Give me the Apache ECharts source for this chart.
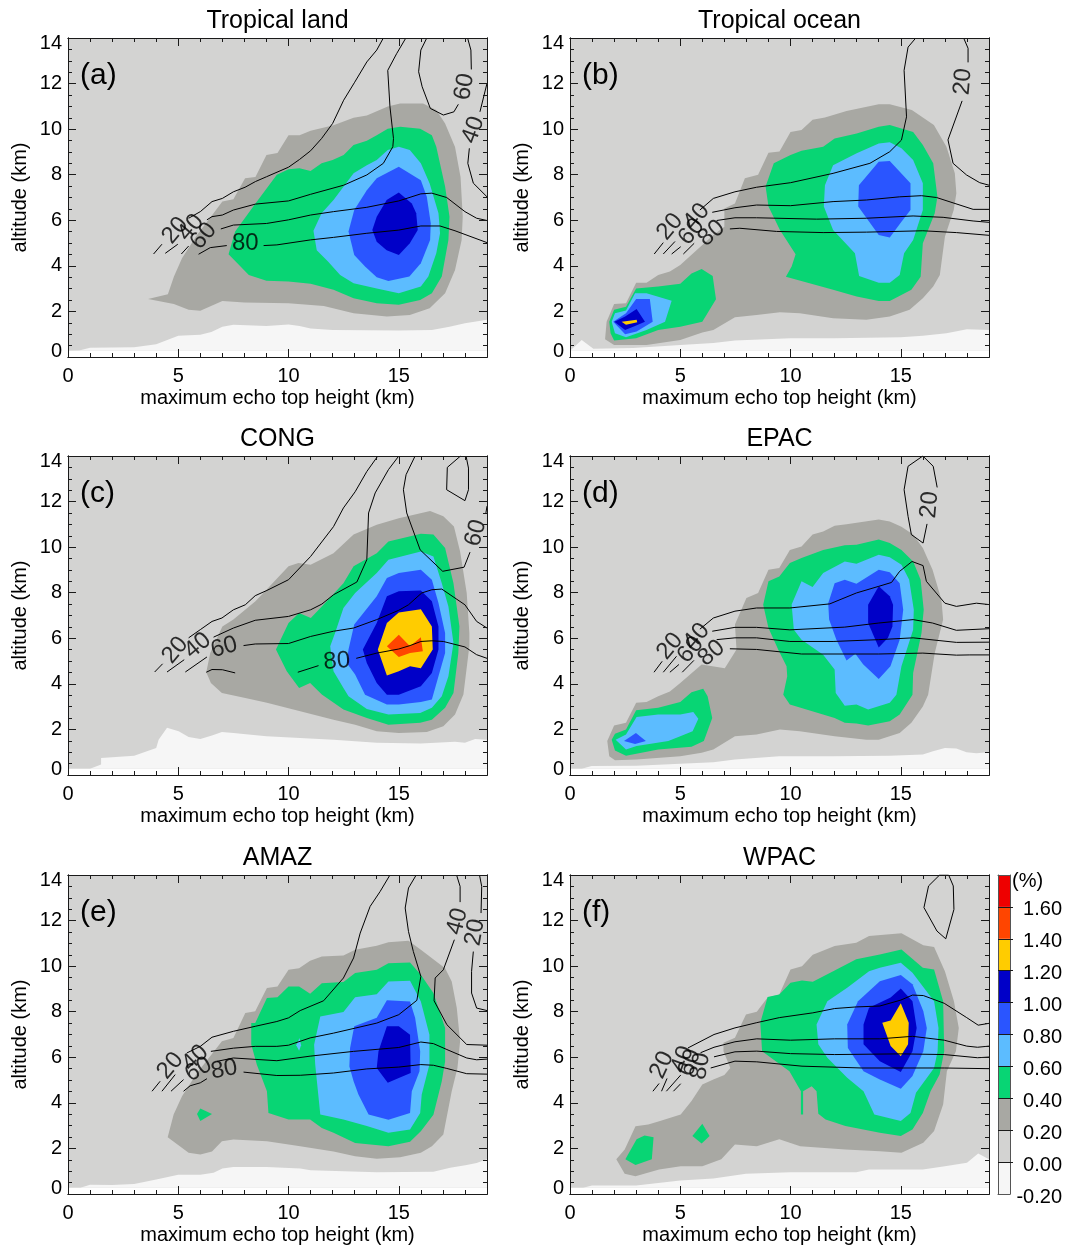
<!DOCTYPE html>
<html><head><meta charset="utf-8"><title>Echo top height vs altitude</title>
<style>html,body{margin:0;padding:0;background:#fff}#chart{width:1067px;height:1246px}</style>
<script src="https://cdn.jsdelivr.net/npm/echarts@6/dist/echarts.min.js"></script></head>
<body><div id="chart"></div>
<script>
const panelTitles=["Tropical land","Tropical ocean","CONG","EPAC","AMAZ","WPAC"];
const panelTags=["(a)","(b)","(c)","(d)","(e)","(f)"];
const xTicks=[0,5,10,15];
const xMinorTicks=[1,2,3,4,6,7,8,9,11,12,13,14,16,17,18,19];
const yTicks=[0,2,4,6,8,10,12,14];
const yMinorTicks=[0.5,1,1.5,2.5,3,3.5,4.5,5,5.5,6.5,7,7.5,8.5,9,9.5,10.5,11,11.5,12.5,13,13.5];
const colorLevels=[-0.2,0,0.2,0.4,0.6,0.8,1.0,1.2,1.4,1.6,1.8];
const levelColors=["#f6f6f6","#d3d3d2","#a8a8a3","#08d574","#5cbcff","#2a55ff","#0000c8","#ffcc00","#ff4500","#ee0000"];
const dataDomain=[[0,.27],[19,.27],[19,14],[0,14]];

// (a) Tropical land: filled contours [x km, altitude km]
const a_below0=[[0,.27],[.5,.28],[1,.41],[3,.43],[4,.56],[5,.93],[6,.98],[6.5,1.1],[7,1.33],[7.5,1.41],[9,1.36],[10,1.43],[10.5,1.36],[11,1.25],[12,1.19],[15,1.16],[16.5,1.19],[17.3,1.33],[18,1.48],[19,1.63],[19,.27]];
const a_g02=[[3.63,2.54],[4.53,2.75],[4.8,3.52],[5.17,4.33],[5.85,5.35],[6.6,6.31],[7,6.82],[7.5,6.92],[8.03,7.84],[8.5,7.9],[9,8.86],[9.5,8.95],[10,9.73],[10.5,9.73],[11,9.93],[12.04,10.17],[12.95,10.5],[13.55,10.6],[14.5,10.99],[15.06,11.13],[16.1,11.13],[16.7,10.84],[17.1,10.25],[17.55,9.22],[17.8,7.9],[17.9,6.16],[17.85,5.14],[17.55,3.82],[17.1,2.8],[16.4,2.14],[15.5,1.84],[14.46,1.78],[12.95,1.92],[11.6,2.24],[10,2.36],[8,2.39],[7,2.46],[6,2.03],[5.47,2.07],[4.8,2.33]];
const a_g04=[[7.28,4.51],[7.58,5.51],[8.5,6.74],[9.47,8],[10,8.24],[10.5,8.28],[11,8.16],[11.5,8.5],[12,8.65],[12.5,8.87],[12.95,9.3],[13.55,9.49],[14,9.73],[14.5,10.02],[15.06,10.1],[15.97,10.02],[16.5,9.73],[16.7,9.23],[17.1,7.48],[17.3,6.16],[17.25,5.14],[16.95,3.53],[16.5,2.8],[15.97,2.5],[15,2.29],[14,2.36],[12.95,2.58],[12.04,2.95],[11,3.21],[10,3.31],[9,3.35],[8.2,3.6]];
const a_g06=[[11.13,5.54],[11.5,6.31],[12.04,6.89],[12.5,7.48],[12.95,8.06],[13.55,8.42],[14,8.65],[14.5,9.08],[15,9.23],[15.5,9.08],[16,8.5],[16.4,7.61],[16.8,6.31],[16.87,5.43],[16.7,4.55],[16.34,3.53],[16,3.09],[15,2.8],[14,3.01],[12.95,3.24],[12.34,3.6],[11.8,4.18],[11.28,4.69]];
const a_g08=[[12.72,5.51],[12.98,6.45],[13.55,7.32],[14,7.84],[15,8.35],[16,7.76],[16.27,7.03],[16.45,5.87],[16.42,5.14],[16,4.11],[15.48,3.53],[14.53,3.34],[14,3.5],[13.47,3.97],[12.98,4.48]];
const a_g10=[[13.8,5.57],[14,6.16],[14.45,6.89],[15,7.22],[15.59,6.74],[15.79,6.31],[15.86,5.57],[15.5,4.99],[15,4.48],[14.45,4.69],[14,5.06]];
const a_lines=[
[[3.88,4.52],[4.26,4.95]],
[[5.47,6.09],[6,6.38],[6.53,6.82],[7,6.96],[7.5,7.25],[8.03,7.45],[8.5,7.7],[9,7.91],[10,8.33],[10.5,8.67],[11,9.05],[11.5,9.59],[12,10.25],[12.5,11.27],[13,12.06],[13.55,12.95],[14,13.47],[14.3,14]],
[[4.41,4.55],[4.98,4.95]],
[[6.3,6.02],[6.53,6.16],[7,6.23],[7.5,6.45],[8.5,6.71],[10,6.85],[11,7.14],[12.5,7.54],[13.55,7.99],[14.3,8.5],[14.73,9.23],[14.76,9.59],[14.6,10.98],[14.5,12.58],[14.9,13.31],[15.32,14]],
[[5.14,4.52],[5.47,4.87]],
[[6.93,5.62],[7.5,5.79],[9,5.86],[10,6.02],[11,6.23],[12.04,6.38],[13.55,6.57],[15,6.85],[16,7.16],[16.5,7.19],[17.17,7],[18,6.38],[18.53,6.09],[19,5.99]],
[[5.92,4.51],[6.45,4.8],[7.2,4.89]],
[[8.87,4.89],[9.47,4.92],[11,5.14],[12.04,5.25],[13.55,5.43],[15,5.57],[16,5.75],[16.87,5.75],[17.55,5.54],[19,5.02]],
[[16.27,14],[16,13.47],[15.9,12.52],[16.06,11.86],[16.43,10.91],[17.02,10.62],[17.5,10.76],[17.7,11.09]],
[[18.29,12.62],[18.27,13.47],[18.12,14]],
[[19,12.01],[18.68,10.76]],
[[18.2,9.16],[18.13,8.5],[18.38,7.63],[19,7.03]]];
const a_labels=[["20",4.86,5.55,50],["40",5.57,5.68,50],["60",6.15,5.31,50],["80",8.04,4.99,0],["60",17.98,11.86,80],["40",18.38,9.96,70]];

// (b) Tropical ocean
const b_below0=[[0,.27],[.53,.75],[1.06,.36],[2.87,.39],[5,.53],[6.5,.61],[7.48,.72],[10,.82],[12,.82],[15,.87],[16,.93],[17.07,1.04],[18,1.22],[19,1.19],[19,.27]];
const b_g02=[[1.59,.78],[1.66,1.55],[2,2.33],[2.54,2.36],[3,3.26],[3.47,3.26],[4,3.6],[4.53,3.75],[5,4.04],[5.5,4.48],[6,4.91],[6.5,5.35],[7,5.72],[7,6.52],[7.48,6.74],[7.93,7.84],[8.53,8],[9,8.96],[9.5,9.02],[10,9.88],[10.5,9.96],[11,10.41],[11.56,10.51],[12.54,10.8],[14,11.09],[14.5,11.09],[15.5,10.84],[16.5,10.18],[17.07,9.23],[17.45,8.06],[17.52,7.19],[17.4,6.45],[17,5.28],[16.77,3.6],[16.47,3.09],[16,2.58],[15.4,2.07],[14.5,1.78],[13.44,1.63],[11.93,1.7],[10.42,1.92],[9.52,1.96],[8.46,1.84],[7.48,1.75],[6.5,1.19],[6,1.07],[5,.75],[3.47,.53],[2,.53]];
const b_g04_1=[[1.78,1.55],[2,2.07],[2.54,2.21],[3,3.01],[4,3.09],[5,3.21],[5.51,3.67],[5.97,3.86],[6.47,3.55],[6.62,2.53],[6,1.55],[5,1.33],[4,1.19],[3,.82],[2,.72],[1.84,1.04]];
const b_g04_2=[[9.79,3.52],[10.05,3.97],[10.23,4.51],[9.52,5.57],[9,6.6],[8.87,7.48],[9.24,8.5],[10,8.87],[10.5,9.05],[11.48,9.23],[12,9.59],[13,9.81],[14,10.1],[14.5,10.18],[15.56,9.88],[16,9.3],[16.47,8.5],[16.66,7.03],[16.54,6.31],[16,4.99],[15.9,3.52],[15.48,2.95],[14.5,2.46],[14,2.46],[13,2.66],[11.93,2.95]];
const b_g06_1=[[1.89,1.55],[2.04,1.92],[2.54,2.04],[2.95,2.8],[3.47,2.8],[4.61,2.47],[4.31,1.55],[3.47,1.19],[2.54,.87],[2.04,1.04]];
const b_g06_2=[[12.92,4.55],[11.93,5.57],[11.51,6.6],[11.56,7.54],[11.93,8.42],[13,8.94],[14,9.37],[14.5,9.42],[15.03,9.16],[15.56,8.65],[16,7.62],[16,6.45],[15.56,5.14],[15.15,4.55],[14.95,3.6],[14.5,3.26],[14,3.26],[13.11,3.55]];
const b_g08_1=[[1.96,1.55],[2.54,1.92],[3,2.55],[3.62,2.55],[3.75,1.55],[3.02,1.12],[2.5,1]];
const b_g08_2=[[13.07,6.6],[13.1,7.54],[14,8.57],[14.5,8.6],[15.44,7.62],[15.44,6.45],[15.03,5.94],[14.5,5.24],[14,5.35]];
const b_g10=[[2.01,1.55],[2.5,1.78],[3.02,2.11],[3.4,1.55],[2.95,1.36],[2.5,1.19]];
const b_g12=[[2.34,1.55],[3.02,1.63],[3.05,1.52],[2.54,1.41]];
const b_lines=[
[[3.82,4.52],[4.23,5.02]],
[[5.89,6.45],[6.5,6.96],[7.48,7.25],[8.46,7.45],[10,7.65],[11.93,8.06],[13.6,8.5],[14.5,9.01],[15.03,9.52],[15.26,10.54],[15.15,12.58],[15.33,13.6],[15.68,14]],
[[4.23,4.52],[4.76,5.07]],
[[6.45,6.35],[7.48,6.55],[8.46,6.67],[10,6.64],[11.93,6.82],[13.44,6.89],[14.95,7.03],[15.94,7.08],[16.62,7],[18.28,6.48],[19,6.48]],
[[4.61,4.52],[5.02,4.84]],
[[6.65,5.99],[7.48,6.11],[8.46,6.11],[11.18,6.05],[13.44,6.09],[15.56,6.19],[16.92,6.13],[18.28,5.97],[19,5.91]],
[[5.14,4.52],[5.63,4.99]],
[[7.25,5.62],[7.7,5.65],[9.37,5.51],[11.48,5.46],[13.44,5.48],[16,5.54],[17.52,5.46],[19,5.34]],
[[17.85,14],[18.05,13.55],[18.05,12.93]],
[[17.78,11.24],[17.14,9.53],[17.37,8.5],[17.98,7.99],[18.58,7.65],[19,7.54]]];
const b_labels=[["20",4.53,5.72,50],["40",5.74,6.16,50],["60",5.51,5.5,50],["80",6.42,5.43,40],["20",17.82,12.08,85]];

// (c) CONG
const c_below0=[[0,.27],[1,.27],[1.5,.46],[1.5,.75],[3,.85],[3.58,1.04],[4,1.19],[4.11,1.55],[4.49,2.07],[5.02,1.92],[5.47,1.67],[6,1.58],[6.53,1.73],[6.98,1.89],[7.5,1.84],[9,1.7],[12.04,1.55],[14,1.41],[16,1.38],[17.55,1.46],[18,1.41],[18.46,1.58],[19,1.55],[19,.27]];
const c_g02=[[6.27,4.51],[6.45,5.35],[7,6.52],[7.5,6.82],[8.5,7.62],[9,8.13],[10,9.16],[10.45,9.3],[11,9.23],[12.04,9.73],[12.95,10.55],[14,10.98],[15,11.27],[16.42,11.59],[17.02,11.36],[17.5,10.91],[17.78,9.81],[18.08,7.99],[18.2,6.23],[18.2,5.65],[17.93,3.53],[17.55,2.66],[17.02,2.14],[16.27,1.89],[15,1.84],[14,1.92],[13.02,2.21],[12.04,2.43],[10.53,2.8],[9.02,3.17],[8.04,3.38],[6.98,3.6],[6.48,4.04]];
const c_g04=[[9.43,5.51],[10,6.67],[10.48,7.11],[11.01,6.89],[11.51,7.4],[12.49,8.42],[12.95,9.16],[14,9.73],[14.53,10.25],[16,10.59],[16.57,10.55],[17.1,9.96],[17.48,8.42],[17.75,6.52],[17.7,5.35],[17.48,3.6],[17.1,2.95],[16.5,2.43],[15.97,2.29],[14.53,2.21],[13.55,2.5],[12.49,2.87],[11.51,3.53],[10.98,4.04],[10.48,3.82],[9.92,4.55]];
const c_g06=[[11.89,5.65],[12.11,6.23],[12.49,7.33],[13.02,7.99],[14,8.87],[14.53,9.45],[16,9.81],[16.57,9.59],[16.95,8.42],[17.25,7.4],[17.48,5.79],[17.25,4.33],[16.95,3.46],[16.5,2.95],[15.97,2.72],[14.53,2.66],[13.55,2.9],[12.72,3.46],[12.49,3.82],[12.04,4.55]];
const c_g08=[[12.72,5.51],[12.98,6.6],[14,7.84],[14.46,8.65],[15,8.87],[16,9.01],[16.5,8.57],[16.8,7.55],[17.1,6.23],[17.1,5.35],[16.8,4.33],[16.5,3.31],[16,3.2],[15,3.09],[14.46,3.09],[13.47,3.52],[13.02,4.41],[12.64,4.91]];
const c_g10=[[13.37,5.51],[14,6.67],[14.46,7.84],[15,8.06],[16,8.1],[16.5,7.62],[16.8,6.52],[16.8,5.51],[16.5,4.48],[16,3.89],[15,3.52],[14.46,3.52],[14,4.04],[13.55,4.91]];
const c_g12=[[14.05,5.51],[14.46,6.67],[15,7.13],[16,7.27],[16.5,6.52],[16.54,5.51],[16,4.69],[15.51,4.77],[15,4.55],[14.46,4.37]];
const c_g14=[[14.46,5.65],[15,6.16],[15.51,5.65],[16,6.05],[16.09,5.43],[15.51,5.35],[15,5.18]];
const c_lines=[
[[3.93,4.52],[4.29,4.88]],
[[5.47,6.02],[6,6.38],[6.53,6.74],[6.98,6.89],[7.5,7.25],[8.04,7.47],[8.49,7.87],[9.02,8.1],[10,8.57],[11,9.59],[12.04,10.9],[12.49,11.72],[13.02,12.43],[13.55,13.32],[14.05,14]],
[[4.49,4.52],[5.27,5.06]],
[[6.6,6.05],[7.5,6.45],[8.49,6.79],[10,6.96],[11,7.25],[11.51,7.5],[12.04,7.91],[13.1,8.47],[13.55,9.45],[13.63,11.5],[13.93,12.38],[14.53,13.4],[15,14]],
[[5.32,4.52],[6.3,5.18]],
[[7.96,5.68],[8.49,5.75],[10,5.77],[11,6.08],[12.04,6.31],[12.95,6.45],[14,6.82],[15,7.23],[15.44,7.47],[16.04,7.99],[16.5,8.13],[16.95,8.16],[18,7.47],[18.53,6.74],[19,6.45]],
[[6.27,4.51],[6.53,4.63],[7,4.62],[7.58,4.48]],
[[10.42,4.51],[11.36,4.8]],
[[13.07,5.12],[14,5.35],[15,5.53],[15.51,5.68],[16,5.86],[16.5,5.89],[17.02,5.86],[18,5.62],[18.53,5.28],[19,5.12]],
[[15.74,14],[15.33,13.18],[15.21,12.52],[15.36,11.5],[15.97,9.88],[16.99,8.94],[17.96,9.12],[18.23,9.78]],
[[18.95,11.5],[19,11.8]],
[[17.8,14],[17.2,13.5],[17.17,12.52],[18,12.04],[18.16,12.52],[18.16,13.47],[18.05,14]]];
const c_labels=[["20",4.86,5.47,50],["40",5.88,5.68,40],["60",7.08,5.6,15],["80",12.19,4.99,5],["60",18.49,10.62,75]];

// (d) EPAC
const d_below0=[[0,.27],[.53,.27],[.98,.39],[3.02,.41],[5,.49],[6.5,.56],[7.48,.68],[9.49,.82],[11.93,.82],[14.5,.85],[16,.9],[16.46,1.04],[17,1.19],[17.52,1.16],[17.98,1],[18.43,.95],[19,1],[19,.27]];
const d_g02=[[1.69,1.49],[2,2.17],[2.54,2.29],[3,3.17],[3.47,3.2],[4,3.46],[4.53,3.67],[5,4.04],[5.97,4.85],[7.02,4.69],[7.55,5.51],[7.48,6.6],[8,7.77],[8.53,7.99],[9,9.01],[9.49,9.08],[9.97,9.88],[10.5,10.03],[11,10.55],[11.48,10.69],[12,10.94],[12.54,11.01],[14,11.21],[14.5,11.13],[15.03,10.9],[15.56,10.55],[16,9.96],[16.44,9.01],[16.84,7.7],[16.92,6.82],[16.54,5.35],[16.24,3.52],[16,3.01],[15.48,2.29],[14.95,1.84],[14,1.55],[13.44,1.55],[12,1.7],[10.42,1.92],[9.52,2],[8.46,1.78],[7.48,1.7],[6.5,1.12],[5.97,.98],[5,.82],[3.02,.68],[2.04,.65],[1.78,.82]];
const d_g04_1=[[1.89,1.55],[2.04,1.81],[2.54,2],[3,2.84],[4,2.95],[5,3.2],[5.51,3.63],[6.04,3.78],[6.24,3.46],[6.45,2.5],[6.07,1.49],[5.51,1.24],[4,1.12],[2.54,.85],[2.04,1.07]];
const d_g04_2=[[9.67,3.52],[9.85,4.33],[9.82,4.77],[9.44,5.51],[9,6.45],[8.76,7.47],[9,8.5],[9.49,8.71],[9.97,9.3],[10.5,9.52],[11.48,9.88],[12.46,10.08],[12.99,10.1],[14,10.33],[14.5,10.18],[15.03,9.88],[15.56,9.37],[15.9,8.57],[16.04,7.25],[15.94,6.23],[15.56,4.48],[15.53,3.52],[14.95,2.66],[14.5,2.36],[13.52,2.17],[12.99,2.26],[12.46,2.29],[12,2.5],[9.97,3.09]];
const d_g06_1=[[2.07,1.55],[2.54,1.78],[3.02,2.55],[4,2.66],[5,2.66],[5.59,2.77],[5.82,2.47],[5.56,1.92],[5,1.7],[4.46,1.49],[3.02,1.27],[2.54,1.12]];
const d_g06_2=[[10.05,7.48],[10.5,8.5],[11,8.25],[11.48,8.87],[12.46,9.37],[12.99,9.27],[14,9.67],[14.5,9.56],[15.03,9.23],[15.38,8.57],[15.59,7.25],[15.56,6.37],[15.03,4.77],[14.8,3.52],[14.5,3.17],[13.52,2.87],[12.99,3.09],[12.46,3.04],[12.05,3.6],[12,4.63],[11.48,5.28],[10.5,5.94],[10.15,6.37]];
const d_g08_1=[[2.45,1.49],[2.99,1.84],[3.44,1.49],[2.95,1.36]];
const d_g08_2=[[12.54,5.03],[12.08,5.94],[11.75,6.82],[11.71,7.54],[12,8.42],[12.46,8.57],[12.99,8.39],[14,9.01],[14.5,8.9],[14.95,8.42],[15.11,7.25],[14.95,5.94],[14.53,4.77],[14,4.21],[13.29,4.86],[12.94,5.32]];
const d_g10=[[13.52,6.67],[13.52,7.47],[14,8.28],[14.5,7.84],[14.65,7.47],[14.62,6.52],[14.42,6.02],[14,5.6]];
const d_lines=[
[[3.81,4.51],[4.18,4.99]],
[[5.89,6.4],[6.5,6.89],[7.48,7.19],[8.46,7.33],[9.97,7.33],[11.78,7.51],[12.99,7.99],[14,8.28],[14.58,8.45],[14.95,8.94],[15.51,9.37],[16.01,9.19],[16.16,8.5],[17,7.54],[17.52,7.4],[18.43,7.54],[19,7.48]],
[[4.23,4.51],[4.83,5.21]],
[[6.45,6.31],[7.48,6.48],[8.46,6.48],[9.97,6.37],[12.46,6.49],[14,6.67],[15.56,6.82],[16.44,6.67],[17.52,6.35],[19,6.42]],
[[4.53,4.51],[4.94,4.85]],
[[6.65,5.94],[7.48,6.02],[8.46,6.02],[9.97,5.86],[11.93,5.86],[14,5.94],[15.56,6.02],[17.52,5.82],[19,5.83]],
[[5.09,4.51],[5.62,5.03]],
[[7.25,5.54],[8.46,5.51],[10.5,5.31],[14,5.31],[16,5.35],[17.52,5.26],[18.13,5.27],[19,5.27]],
[[16.19,11.02],[16.01,10.18],[15.48,10.55],[15.33,11.35],[15.15,12.52],[15.33,13.55],[16,14],[16.47,13.55],[16.65,12.62]]];
const d_labels=[["20",4.53,5.65,50],["40",5.74,6.08,50],["60",5.47,5.5,50],["80",6.42,5.35,40],["20",16.31,11.86,85]];

// (e) AMAZ
const e_below0=[[0,.27],[.56,.27],[1,.41],[2,.39],[3,.44],[4,.64],[5,.85],[6,.85],[6.6,.93],[7,1.12],[7.5,1.18],[9,1.19],[10.53,1.12],[11,1.04],[14,.96],[16.57,.98],[17.33,1.15],[18.08,1.27],[18.53,1.36],[19,1.52],[19,.27]];
const e_g02=[[4.52,2.49],[4.79,3.49],[5.17,4.29],[5.85,5.31],[6.98,6.7],[7.5,6.85],[8.04,7.94],[8.49,8.02],[9.02,9.04],[9.5,9.11],[10,9.84],[10.48,9.91],[10.98,10.24],[11.51,10.42],[12.49,10.47],[13.02,10.72],[14,10.89],[14.53,11.05],[15.44,11.11],[16,10.72],[17.1,9.91],[17.4,9.33],[17.63,8.16],[17.78,6.7],[17.66,5.53],[17.4,4.51],[17.02,2.61],[16.5,2.1],[16,1.81],[15.06,1.61],[14,1.55],[13.02,1.66],[12.04,1.87],[10.53,2.1],[9.02,2.32],[7.5,2.39],[6.98,2.32],[6.53,1.87],[6,1.73],[5.47,1.81]];
const e_g04_1=[[8.31,7.5],[8.49,7.5],[9.02,8.6],[9.5,8.63],[10,9.11],[10.48,9.11],[10.98,8.79],[11.51,9.25],[12.49,9.3],[13.02,9.7],[14,9.84],[14.53,10.13],[15.51,10.16],[16,9.62],[16.57,8.82],[17.1,7.28],[17.1,5.82],[16.95,4.95],[16.57,3.48],[16,2.75],[15.51,2.29],[14.53,2.1],[13.02,2.24],[12.04,2.69],[11.51,2.9],[10.98,3.27],[10,3.27],[9.09,3.55],[9.02,4.51],[8.56,5.68],[8.31,6.56]];
const e_g04_2=[[5.85,3.51],[6,3.75],[6.53,3.51],[6,3.2]];
const e_g06_1=[[11.44,3.49],[11.21,5.68],[11.16,6.55],[11.44,7.79],[12.49,7.99],[13.02,8.63],[14,8.77],[14.53,9.33],[15.51,9.36],[16,8.45],[16.39,6.99],[16.39,5.68],[16.04,4.37],[15.97,3.55],[15.51,2.83],[14.53,2.69],[13.55,2.98],[12.49,3.27]];
const e_g06_2=[[10.35,6.53],[10.5,6.85],[10.57,6.53],[10.48,6.29]];
const e_g08=[[12.76,5.6],[12.79,6.4],[12.98,7.36],[14,7.73],[14.46,8.5],[15.51,8.45],[15.74,7.73],[15.97,6.26],[15.94,5.39],[15.59,4.51],[15.51,3.55],[14.53,3.26],[13.63,3.49],[13.17,4.37],[12.95,4.95]];
const e_g10=[[14,5.53],[14.08,6.26],[14.46,7.36],[15,7.36],[15.51,6.99],[15.54,5.31],[15,5.09],[14.5,4.88]];
const e_lines=[
[[3.81,4.51],[4.18,4.95]],
[[5.39,6.19],[6,6.48],[6.53,6.88],[7.5,7.14],[8.49,7.36],[9.47,7.57],[10,7.73],[10.53,8.05],[11.59,8.48],[12.49,9.48],[12.95,10.36],[13.25,11.45],[13.7,12.62],[14.15,13.27],[14.6,14]],
[[4.26,4.51],[4.86,5.24]],
[[6.48,6.26],[7.5,6.4],[8.49,6.48],[9.47,6.48],[10,6.53],[10.98,6.85],[12.04,7.06],[13.02,7.28],[14,7.5],[15,7.87],[15.82,8.5],[16,9.55],[15.66,10.64],[15.44,11.52],[15.29,12.55],[15.44,13.43],[15.79,14]],
[[4.67,4.51],[5.24,5.02]],
[[6.75,5.82],[7.5,5.97],[9.47,5.85],[10.98,6.05],[12.95,6.26],[15,6.43],[16,6.67],[16.57,6.6],[17.18,6.34],[18.08,5.97],[18.53,5.89],[19,5.92]],
[[5.24,4.51],[5.54,4.75],[6,4.88],[6.3,5.06]],
[[7.96,5.35],[9.47,5.2],[10.53,5.21],[12.04,5.31],[13.55,5.49],[15,5.57],[16,5.68],[16.57,5.65],[17.18,5.51],[18.08,5.28],[19,5.26]],
[[17.62,14],[17.78,13.5],[17.78,12.81]],
[[17.52,11.16],[17.02,9.84],[16.65,9.48],[16.6,8.48],[17.18,7.43],[18.08,6.56],[19,6.53]],
[[18.66,14],[18.76,13.5],[18.73,12.33]],
[[18.38,10.64],[18.3,9.77],[18.3,8.82],[18.53,8.16],[19,8.05]]];
const e_labels=[["20",4.64,5.63,50],["40",5.77,5.97,45],["60",5.92,5.46,30],["80",7.08,5.46,10],["40",17.66,11.96,75],["20",18.46,11.48,80]];

// (f) WPAC
const f_below0=[[0,.27],[.6,.27],[1,.37],[3,.37],[5,.59],[6.5,.68],[7.98,.89],[10,.96],[12.98,.96],[13.56,1.07],[16,1.07],[17,1.22],[18,1.37],[18.51,1.78],[19,1.52],[19,.27]];
const f_g02=[[2.1,1.52],[2.48,1.95],[2.97,2.97],[3.55,3.05],[4.12,3.22],[5.02,3.49],[5.51,4.08],[6,4.81],[6.5,5.02],[7,5.22],[7.27,5.53],[6.96,6.27],[6.96,6.64],[7.48,6.86],[7.98,7.88],[8.47,8],[8.96,8.62],[9.49,8.76],[10,9.85],[10.52,10],[11.01,10.5],[12,10.88],[12.98,11.03],[13.56,11.32],[15.03,11.44],[16.02,10.92],[16.51,10.84],[17,9.78],[17.41,8.46],[17.63,7.29],[17.5,6.27],[17.09,5.39],[16.92,3.93],[16.51,2.76],[16.02,2.25],[15.03,1.81],[14.05,1.88],[12.49,1.95],[10.44,2.1],[9.49,2.4],[8.47,2.1],[7.48,2.17],[6.86,1.52],[6,1.22],[5.02,1.22],[4.04,1.07],[2.97,.78],[2.48,.89]];
const f_g04_1=[[2.51,1.52],[3.02,2.4],[3.38,2.57],[3.79,2.49],[3.71,1.52],[2.97,1.27]];
const f_g04_2=[[5.55,2.54],[6,3.08],[6.33,2.54],[5.97,2.22]];
const f_g04_3=[[8.63,7.52],[8.96,8.65],[9.49,8.76],[10,9.27],[10.52,9.37],[11.01,9.31],[12,9.81],[12.98,10.3],[14.05,10.51],[15.03,10.73],[16,9.93],[16.51,9.85],[16.92,8.46],[16.97,6.27],[16.76,5.25],[16.35,4.51],[16,3.56],[15.53,2.83],[15,2.54],[14.05,2.69],[12.49,2.98],[11.59,3.27],[11.26,3.52],[11.18,4.51],[10.96,4.73],[10.57,4.51],[10.57,3.49],[10.47,3.49],[10.47,4.51],[9.95,5.39],[8.71,6.27]];
const f_g06=[[11.18,7.44],[11.67,8.46],[12.57,9.05],[13.56,9.78],[14.05,9.93],[15,10.15],[15.53,9.71],[16.51,8.46],[16.71,7.29],[16.67,6.27],[16.51,5.53],[15.69,4.44],[15.44,3.56],[15,3.2],[13.8,3.49],[13.31,4.51],[12.57,5.1],[11.67,5.98],[11.26,6.57]];
const f_g08=[[12.57,7.44],[13.06,8.46],[14.05,9.34],[15,9.61],[15.53,9.2],[16.02,8.03],[16.18,7.29],[16.02,6.27],[15.53,5.18],[15,4.62],[14.05,5.02],[13.31,5.39],[12.6,6.41]];
const f_g10=[[13.31,7.44],[13.56,8.17],[14.54,8.62],[15,9.02],[15.53,8.46],[15.72,7.29],[15.53,6.27],[15,5.35],[14.05,5.83],[13.31,6.57]];
const f_g12=[[14.16,7.52],[14.54,7.61],[15,8.37],[15.36,7.52],[15.33,6.57],[15,6.05],[14.54,6.49]];
const f_lines=[
[[3.76,4.51],[4.04,4.85]],
[[5.35,6.41],[6.53,7],[7.48,7.29],[8.47,7.52],[9.49,7.74],[11.01,7.95],[12,8.14],[12.98,8.21],[14.05,8.25],[15,8.51],[15.53,8.73],[16.02,8.71],[16.97,8.37],[17.99,7.74],[18.51,7.41],[19,7.49]],
[[4.15,4.51],[4.4,5.07]],
[[5.92,6.2],[6.53,6.44],[7.48,6.68],[8.47,6.81],[10,6.75],[12,6.81],[14.05,6.81],[15.53,6.92],[16.97,6.75],[17.99,6.49],[18.48,6.44],[19,6.49]],
[[4.37,4.51],[5.02,5.22]],
[[6.53,6.02],[7.48,6.24],[8.47,6.27],[10,6.16],[12,6.12],[15,6.15],[16.97,6.12],[18.48,5.98],[19,6.01]],
[[4.69,4.51],[5.02,4.84]],
[[6.38,5.53],[7.48,5.83],[8.47,5.8],[10.52,5.61],[13.23,5.53],[16.97,5.53],[19,5.5]],
[[16.05,12.57],[16.26,13.52],[16.76,14],[17.17,14],[17.38,13.52],[17.41,12.49],[17.04,11.2],[16.64,11.54],[16.05,12.57]]];
const f_labels=[["20",4.17,5.66,65],["40",5.1,5.9,70],["60",5.43,5.76,70],["80",5.92,5.61,80]];

// each band: [index into levelColors, polygon]
const panelBands=[
 [[0,a_below0],[2,a_g02],[3,a_g04],[4,a_g06],[5,a_g08],[6,a_g10]],
 [[0,b_below0],[2,b_g02],[3,b_g04_1],[3,b_g04_2],[4,b_g06_1],[4,b_g06_2],[5,b_g08_1],[5,b_g08_2],[6,b_g10],[7,b_g12]],
 [[0,c_below0],[2,c_g02],[3,c_g04],[4,c_g06],[5,c_g08],[6,c_g10],[7,c_g12],[8,c_g14]],
 [[0,d_below0],[2,d_g02],[3,d_g04_1],[3,d_g04_2],[4,d_g06_1],[4,d_g06_2],[5,d_g08_1],[5,d_g08_2],[6,d_g10]],
 [[0,e_below0],[2,e_g02],[3,e_g04_1],[3,e_g04_2],[4,e_g06_1],[4,e_g06_2],[5,e_g08],[6,e_g10]],
 [[0,f_below0],[2,f_g02],[3,f_g04_1],[3,f_g04_2],[3,f_g04_3],[4,f_g06],[5,f_g08],[6,f_g10],[7,f_g12]]];
const panelLines=[a_lines,b_lines,c_lines,d_lines,e_lines,f_lines];
const panelLabels=[a_labels,b_labels,c_labels,d_labels,e_labels,f_labels];

const FONT='"Liberation Sans",Arial,Helvetica,sans-serif';
const INK='#1a1a1a';
const colLeft=[68,570], rowTop=[38,456,875], plotW=419, plotH=319;
const grids=[],xAxes=[],yAxes=[],series=[],titles=[];

function polygonSeries(xi,yi,pts,fill){
  return {type:'custom',coordinateSystem:'cartesian2d',xAxisIndex:xi,yAxisIndex:yi,silent:true,z:2,animation:false,
    data:pts,encode:{x:0,y:1},
    renderItem:(params,api)=>{
      if(params.dataIndex!==0) return null;
      return {type:'polygon',shape:{points:pts.map(p=>api.coord(p))},style:{fill:fill}};
    }};
}
function tickAxis(kind,gridIndex,position,values,len,extra){
  const isX=kind==='x';
  return Object.assign({type:'value',gridIndex,position,min:0,max:isX?19:14,z:10,
    axisLine:{show:true,onZero:false,lineStyle:{color:INK,width:1}},
    axisTick:{show:true,inside:true,length:len,customValues:values,lineStyle:{color:INK,width:1}},
    axisLabel:{show:false},splitLine:{show:false}},extra||{});
}
panelTitles.forEach((t,i)=>{
  const left=colLeft[i%2], top=rowTop[Math.floor(i/2)];
  grids.push({left,top,width:plotW,height:plotH,show:false});
  const xb=xAxes.length, yb=yAxes.length;
  xAxes.push(tickAxis('x',i,'bottom',xTicks,8,{
    name:'maximum echo top height (km)',nameLocation:'middle',nameGap:31,nameMoveOverlap:false,
    nameTextStyle:{fontFamily:FONT,fontSize:20,color:'#000'},
    axisLabel:{show:true,customValues:xTicks,fontFamily:FONT,fontSize:20,color:'#000',margin:9,hideOverlap:false,showMinLabel:true,showMaxLabel:true}}));
  xAxes.push(tickAxis('x',i,'top',xTicks,8));
  xAxes.push(tickAxis('x',i,'bottom',xMinorTicks,4));
  xAxes.push(tickAxis('x',i,'top',xMinorTicks,4));
  yAxes.push(tickAxis('y',i,'left',yTicks,8,{
    name:'altitude (km)',nameLocation:'middle',nameGap:38,nameMoveOverlap:false,
    nameTextStyle:{fontFamily:FONT,fontSize:20,color:'#000'},
    axisLabel:{show:true,customValues:yTicks,fontFamily:FONT,fontSize:20,color:'#000',margin:6,hideOverlap:false,showMinLabel:true,showMaxLabel:true,
      formatter:v=>v===0?'{lo|0}':v===14?'{hi|14}':String(v),
      rich:{lo:{fontFamily:FONT,fontSize:20,color:'#000',padding:[0,0,12,0]},hi:{fontFamily:FONT,fontSize:20,color:'#000',padding:[10,0,0,0]}}}}));
  yAxes.push(tickAxis('y',i,'right',yTicks,8));
  yAxes.push(tickAxis('y',i,'left',yMinorTicks,4));
  yAxes.push(tickAxis('y',i,'right',yMinorTicks,4));
  series.push(polygonSeries(xb,yb,dataDomain,levelColors[1]));
  panelBands[i].forEach(b=>series.push(polygonSeries(xb,yb,b[1],levelColors[b[0]])));
  panelLines[i].forEach(l=>series.push({type:'line',xAxisIndex:xb,yAxisIndex:yb,data:l,symbol:'none',showSymbol:false,silent:true,animation:false,z:5,smooth:false,
    lineStyle:{color:'#000',width:1},emphasis:{disabled:true}}));
  series.push({type:'scatter',xAxisIndex:xb,yAxisIndex:yb,symbolSize:0,silent:true,animation:false,z:6,
    data:panelLabels[i].map(l=>({value:[l[1],l[2]],label:{show:true,position:'inside',formatter:l[0],rotate:l[3],fontFamily:FONT,fontSize:24,color:'#000'}}))});
  titles.push({text:t,left:left+plotW/2,top:top-29,textAlign:'center',padding:0,textStyle:{fontFamily:FONT,fontSize:25,fontWeight:'normal',color:'#000'}});
  titles.push({text:panelTags[i],left:left+12,top:top+22.5,padding:0,textStyle:{fontFamily:FONT,fontSize:30,fontWeight:'normal',color:'#000'}});
});
// colour bar
const cbGrid=grids.length;
grids.push({left:998,top:875,width:12,height:319,show:false});
const cbX=xAxes.length, cbY=yAxes.length;
const cbOuter={type:'value',gridIndex:cbGrid,min:0,max:1,z:10,axisLine:{show:true,onZero:false,lineStyle:{color:'#555',width:1}},axisTick:{show:false},axisLabel:{show:false},splitLine:{show:false}};
xAxes.push(Object.assign({},cbOuter,{position:'bottom'}));
xAxes.push(Object.assign({},cbOuter,{position:'top'}));
const cbTickValues=colorLevels.slice(1,-1);
yAxes.push({type:'value',gridIndex:cbGrid,position:'right',min:-0.2,max:1.8,z:10,
  axisLine:{show:true,onZero:false,lineStyle:{color:'#555',width:1}},
  axisTick:{show:true,length:3,customValues:cbTickValues,lineStyle:{color:INK,width:1}},
  splitLine:{show:false},
  axisLabel:{show:true,customValues:colorLevels.slice(0,-1),align:'right',margin:52,fontFamily:FONT,fontSize:20,color:'#000',hideOverlap:false,showMinLabel:true,
    formatter:v=>'{v|'+v.toFixed(2)+'}',
    rich:{v:{fontFamily:FONT,fontSize:20,color:'#000',padding:[6,0,0,0]}}}});
yAxes.push({type:'value',gridIndex:cbGrid,position:'left',min:-0.2,max:1.8,z:10,
  axisLine:{show:true,onZero:false,lineStyle:{color:'#555',width:1}},axisTick:{show:true,inside:true,length:13,customValues:cbTickValues,lineStyle:{color:INK,width:1}},axisLabel:{show:false},splitLine:{show:false}});
series.push({type:'custom',coordinateSystem:'cartesian2d',xAxisIndex:cbX,yAxisIndex:cbY,silent:true,animation:false,z:2,
  data:levelColors.map((c,i)=>[0,colorLevels[i],1,colorLevels[i+1]]),encode:{x:0,y:1},
  renderItem:(params,api)=>{
    const i=params.dataIndex, a=api.coord([0,colorLevels[i]]), b=api.coord([1,colorLevels[i+1]]);
    return {type:'rect',shape:{x:a[0],y:b[1],width:b[0]-a[0],height:a[1]-b[1]},style:{fill:levelColors[i]}};
  }});
titles.push({text:'(%)',left:1012,top:871,padding:0,textStyle:{fontFamily:FONT,fontSize:20,fontWeight:'normal',color:'#000'}});

const chart=echarts.init(document.getElementById('chart'),null,{renderer:'canvas'});
chart.setOption({animation:false,backgroundColor:'#fff',title:titles,grid:grids,xAxis:xAxes,yAxis:yAxes,series:series});
</script></body></html>
